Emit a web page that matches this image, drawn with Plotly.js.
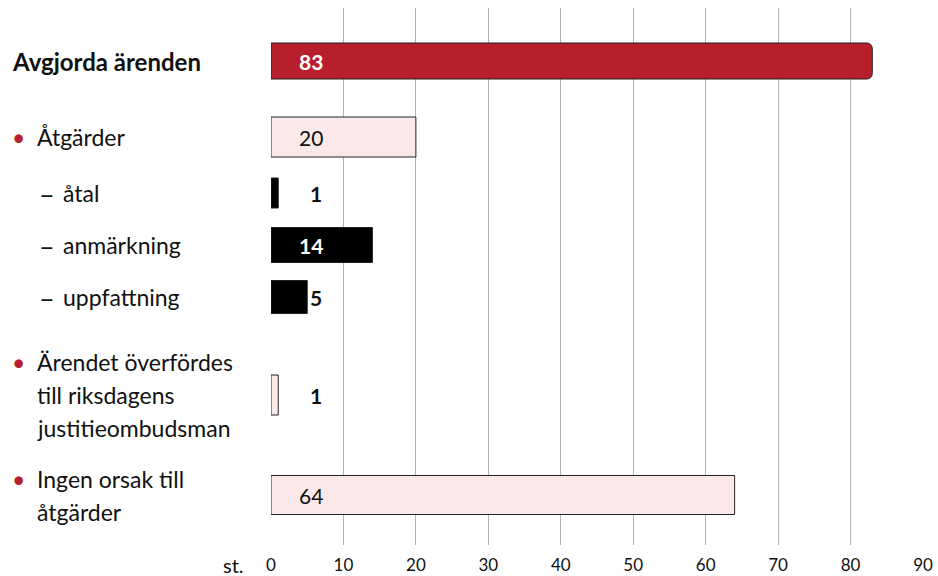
<!DOCTYPE html>
<html><head><meta charset="utf-8">
<script src="https://cdn.plot.ly/plotly-3.0.1.min.js"></script>
<style>body{margin:0;background:#fff}#c{width:938px;height:576px}</style>
</head><body><div id="c"></div>
<script>
// Data
const categories = ["Avgjorda ärenden","Åtgärder","åtal","anmärkning","uppfattning","Ärendet överfördes till riksdagens justitieombudsman","Ingen orsak till åtgärder"];
const values = [83, 20, 1, 14, 5, 1, 64];
const tickValues = [0,10,20,30,40,50,60,70,80,90];
const tickLabels = ["0","10","20","30","40","50","60","70","80","90"];
const unitLabel = "st.";

// Layout / style config
const rowPos = [61, 137, 193, 245, 297, 395, 495];
const barThick = [36, 40, 30, 35, 33, 40, 39];
const kinds = ["total","main","sub","sub","sub","main","main"];
const colors = {total:"#b81f2d", main:"#fbe9ea", sub:"#000000"};
const labelLines = [
  ["Avgjorda ärenden"],
  ["Åtgärder"],
  ["åtal"],
  ["anmärkning"],
  ["uppfattning"],
  ["Ärendet överfördes","till riksdagens","justitieombudsman"],
  ["Ingen orsak till","åtgärder"]
];
const FONT = "Lato, 'Open Sans', sans-serif";
const LINE_H = 33;
const L = 271, R = 15;
const plotW = 938 - L - R;
const px2paper = p => (p - L) / plotW;

const traces = values.map((v,i)=>({
  type:"bar", orientation:"h",
  x:[v], y:[rowPos[i]], width:[barThick[i]],
  marker:{color:colors[kinds[i]], line:{color:"#222", width:1}, cornerradius: kinds[i]==="total"?6:0},
  hoverinfo:"skip", showlegend:false
}));

const ann = [];
values.forEach((v,i)=>{
  const white = kinds[i]!=="main" && v >= 10;
  const bold = !(kinds[i]==="main" && v >= 10);
  ann.push({x: v < 10 ? 6.2 : 5.5, y:rowPos[i], xref:"x", yref:"y", text: String(v),
    showarrow:false, xanchor:"center", yanchor:"middle",
    font:{family:FONT, size:21, color: white ? "#fff" : "#111", weight: bold ? 700 : 400}});
});
labelLines.forEach((lines,i)=>{
  const kind = kinds[i];
  let textX = 10, pre = null;
  if (kind==="main"){ textX = 35; pre = {x:10, t:"•", color:"#b81f2d", size:23}; }
  if (kind==="sub"){ textX = 61; pre = {x:37, t:"–", color:"#111", size:27}; }
  const n = lines.length;
  const y0 = rowPos[i] - (n-1)*LINE_H/2;
  if (pre) ann.push({xref:"paper", yref:"y", x:px2paper(pre.x), y:y0, text:pre.t, showarrow:false,
    xanchor:"left", yanchor:"middle", font:{family:FONT, size:pre.size, color:pre.color}});
  lines.forEach((ln,k)=>{
    ann.push({xref:"paper", yref:"y", x:px2paper(textX), y:y0 + k*LINE_H, text:ln, showarrow:false,
      xanchor:"left", yanchor:"middle", align:"left",
      font:{family:FONT, size: kind==="total"?24:23, color:"#111", weight: kind==="total"?700:400}});
  });
});
ann.push({xref:"paper", yref:"paper", x:px2paper(246), y:0, yshift:-20, text:unitLabel, showarrow:false,
  xanchor:"right", yanchor:"middle", font:{family:FONT, size:20, color:"#111"}});

const layout = {
  width:938, height:576,
  margin:{l:L, r:R, t:8, b:31},
  paper_bgcolor:"#fff", plot_bgcolor:"#fff",
  bargap:0,
  xaxis:{range:[0,90], tickvals:tickValues, ticktext:tickLabels, showgrid:true, gridcolor:"#b3b3b3", gridwidth:1,
    zeroline:false, showline:false, ticks:"", tickfont:{family:FONT, size:17, color:"#111"}, ticklabelstandoff:8, fixedrange:true},
  yaxis:{range:[545,8], showgrid:false, zeroline:false, showticklabels:false, ticks:"", fixedrange:true},
  annotations:ann
};
Plotly.newPlot("c", traces, layout, {staticPlot:true, displayModeBar:false});
</script></body></html>
